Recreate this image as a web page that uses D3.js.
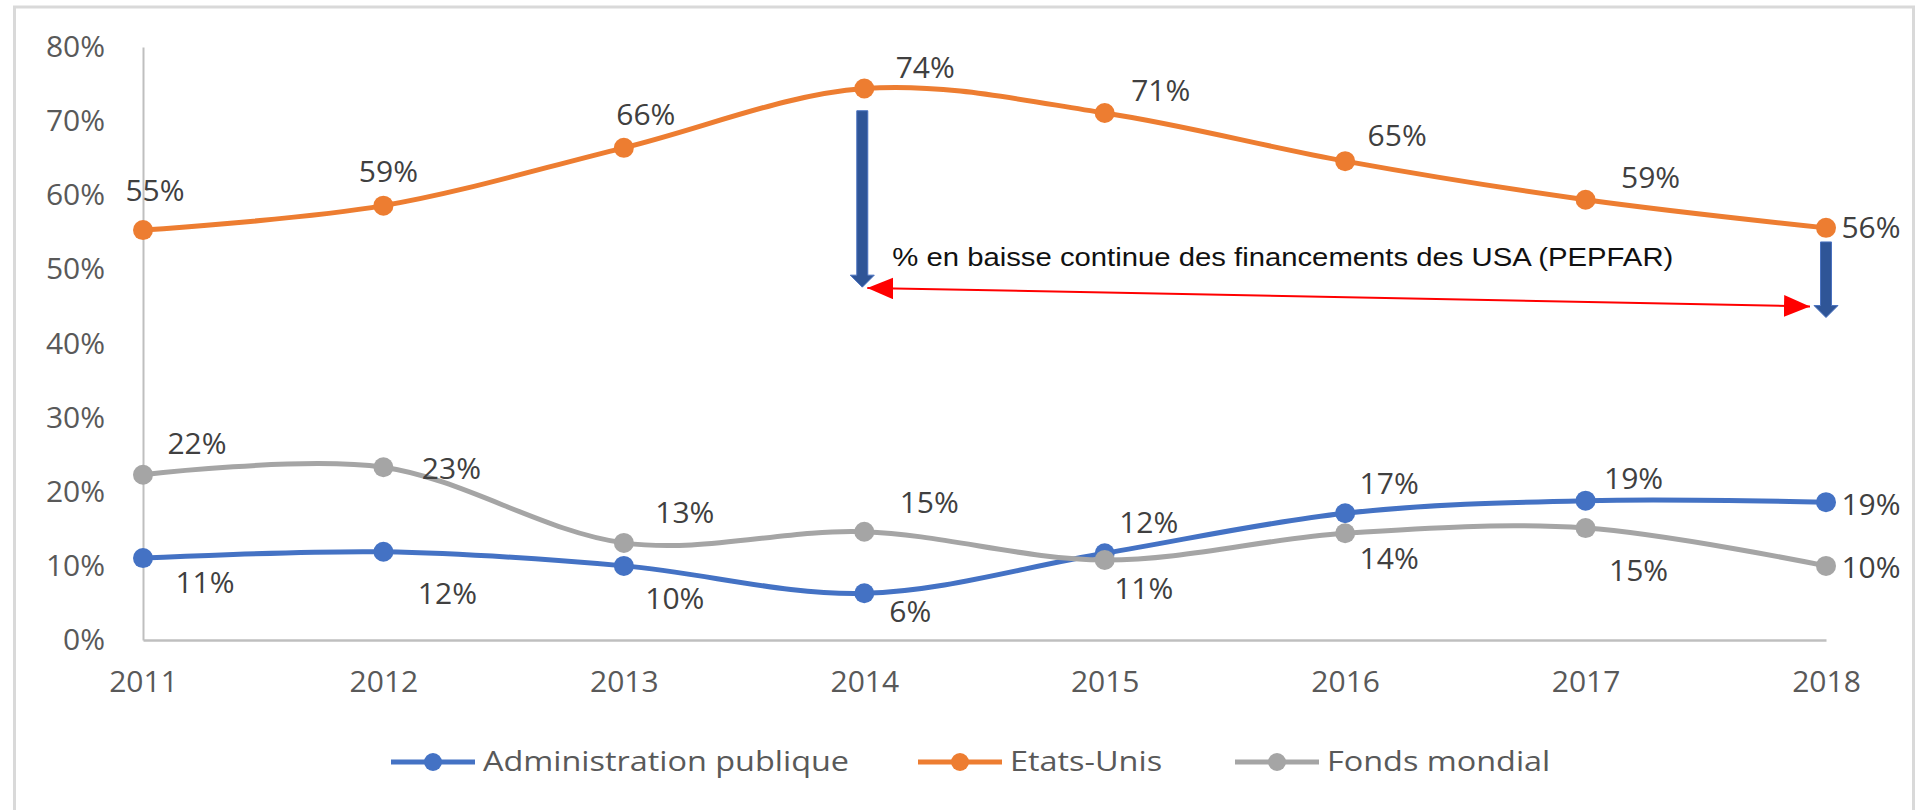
<!DOCTYPE html>
<html>
<head>
<meta charset="utf-8">
<script src="https://cdn.jsdelivr.net/npm/d3@7"></script>
<style>
  body { margin: 0; background: #fff; }
  svg text { font-family: "Open Sans", sans-serif; }
</style>
</head>
<body>
<svg id="chart"></svg>
<script>
// data
var years = ["2011", "2012", "2013", "2014", "2015", "2016", "2017", "2018"];
var adminPublique = [11.05, 11.9, 10.0, 6.3, 11.7, 17.1, 18.8, 18.6];
var etatsUnis = [55.3, 58.6, 66.4, 74.4, 71.1, 64.6, 59.4, 55.6];
var fondsMondial = [22.3, 23.3, 13.1, 14.6, 10.8, 14.4, 15.1, 10.0];
var yTicks = [0, 10, 20, 30, 40, 50, 60, 70, 80];
var seriesNames = ["Administration publique", "Etats-Unis", "Fonds mondial"];
var annotationText = "% en baisse continue des financements des USA (PEPFAR)";

// label placement (pixel offsets from each point), like manual Excel labels
var offsAdmin = [[62,24],[64,41],[51,32],[46,18],[44,-31],[44,-30],[48,-22],[45,2]];
var offsUSA = [[12,-40],[5,-34],[22,-34],[61,-21],[56,-23],[52,-26],[65,-22],[45,-1]];
var offsFonds = [[54,-32],[68,1],[61,-31],[65,-30],[39,28],[44,25],[53,42],[45,1]];

var width = 1919, height = 810;

var svg = d3.select("#chart")
    .attr("width", width)
    .attr("height", height);

// outer frame
svg.append("rect")
    .attr("x", 14.5).attr("y", 7)
    .attr("width", 1899).attr("height", 830)
    .attr("fill", "#fff")
    .attr("stroke", "#d9d9d9")
    .attr("stroke-width", 3);

var x = d3.scalePoint().domain(years).range([143, 1826]);
var y = d3.scaleLinear().domain([0, 80]).range([640, 47]);

// y axis
var yAxis = d3.axisLeft(y)
    .tickValues(yTicks)
    .tickFormat(function(d) { return d + "%"; })
    .tickSize(0).tickSizeOuter(0)
    .tickPadding(38);

var gy = svg.append("g")
    .attr("transform", "translate(" + x(years[0]) + ",0)")
    .call(yAxis);
gy.select(".domain").attr("stroke", "#bfbfbf").attr("stroke-width", 2);
gy.selectAll("text")
    .attr("font-size", 30)
    .attr("fill", "#595959")
    .style("font-family", "Open Sans");

// x axis
var xAxis = d3.axisBottom(x).tickSize(0).tickSizeOuter(0).tickPadding(31);
var gx = svg.append("g")
    .attr("transform", "translate(0," + y(0) + ")")
    .call(xAxis);
gx.select(".domain").attr("stroke", "#bfbfbf").attr("stroke-width", 2.5);
gx.selectAll("text")
    .attr("font-size", 30)
    .attr("fill", "#595959")
    .style("font-family", "Open Sans");

// series
var series = [
  {name: seriesNames[0], values: adminPublique, color: "#4472c4", offs: offsAdmin},
  {name: seriesNames[1], values: etatsUnis, color: "#ed7d31", offs: offsUSA},
  {name: seriesNames[2], values: fondsMondial, color: "#a5a5a5", offs: offsFonds}
];

var line = d3.line()
    .x(function(d, i) { return x(years[i]); })
    .y(function(d) { return y(d); })
    .curve(d3.curveCardinal.tension(0));

series.forEach(function(s) {
  var g = svg.append("g");
  g.append("path")
      .datum(s.values)
      .attr("d", line)
      .attr("fill", "none")
      .attr("stroke", s.color)
      .attr("stroke-width", 5)
      .attr("stroke-linecap", "round");
  g.selectAll("circle")
      .data(s.values)
      .enter().append("circle")
      .attr("cx", function(d, i) { return x(years[i]); })
      .attr("cy", function(d) { return y(d); })
      .attr("r", 10)
      .attr("fill", s.color);
});

// data labels on top
series.forEach(function(s) {
  svg.append("g").selectAll("text")
      .data(s.values)
      .enter().append("text")
      .attr("x", function(d, i) { return x(years[i]) + s.offs[i][0]; })
      .attr("y", function(d, i) { return y(d) + s.offs[i][1]; })
      .attr("dy", "0.36em")
      .attr("text-anchor", "middle")
      .attr("font-size", 30)
      .attr("fill", "#404040")
      .text(function(d) { return Math.round(d) + "%"; });
});

// annotation: blue down arrows
function blockArrow(cx, yTop, yTip) {
  var bw = 5.5, hw = 12, hl = 12;
  var p = [[cx - bw, yTop], [cx + bw, yTop], [cx + bw, yTip - hl], [cx + hw, yTip - hl],
           [cx, yTip], [cx - hw, yTip - hl], [cx - bw, yTip - hl]];
  svg.append("polygon")
      .attr("points", p.map(function(q) { return q.join(","); }).join(" "))
      .attr("fill", "#2f5597")
      .attr("stroke", "#4a72c0")
      .attr("stroke-width", 1);
}
blockArrow(x("2014") - 2, y(71.4), y(47.6));
blockArrow(x("2018"), y(53.7), y(43.5));

// red double arrow
svg.append("defs").html(
  '<marker id="redhead" viewBox="0 0 12 10" refX="12" refY="5" markerWidth="26" markerHeight="22" ' +
  'markerUnits="userSpaceOnUse" orient="auto-start-reverse">' +
  '<path d="M0,0 L12,5 L0,10 z" fill="#ff0000"/></marker>');

svg.append("line")
    .attr("x1", x("2014") + 3).attr("y1", y(47.5))
    .attr("x2", x("2018") - 16).attr("y2", y(45.0))
    .attr("stroke", "#ff0000")
    .attr("stroke-width", 2)
    .attr("marker-start", "url(#redhead)")
    .attr("marker-end", "url(#redhead)");

var note = svg.append("text")
    .attr("x", x("2014") + 28)
    .attr("y", y(50.4))
    .attr("font-size", 25)
    .attr("fill", "#111")
    .style("font-family", "Liberation Sans, Arial, sans-serif")
    .text(annotationText);
note.attr("textLength", 781).attr("lengthAdjust", "spacingAndGlyphs");

// legend
var legendX = [391, 918, 1235];
var legendY = 762;
series.forEach(function(s, i) {
  var g = svg.append("g").attr("transform", "translate(" + legendX[i] + "," + legendY + ")");
  g.append("line")
      .attr("x1", 0).attr("x2", 84)
      .attr("stroke", s.color).attr("stroke-width", 5);
  g.append("circle")
      .attr("cx", 42).attr("r", 9)
      .attr("fill", s.color);
  var t = g.append("text")
      .attr("x", 92)
      .attr("dy", "0.35em")
      .attr("font-size", 27)
      .attr("fill", "#595959")
      .text(s.name);
  var w = t.node().getComputedTextLength();
  t.attr("textLength", w * 1.2).attr("lengthAdjust", "spacingAndGlyphs");
});
</script>
</body>
</html>
